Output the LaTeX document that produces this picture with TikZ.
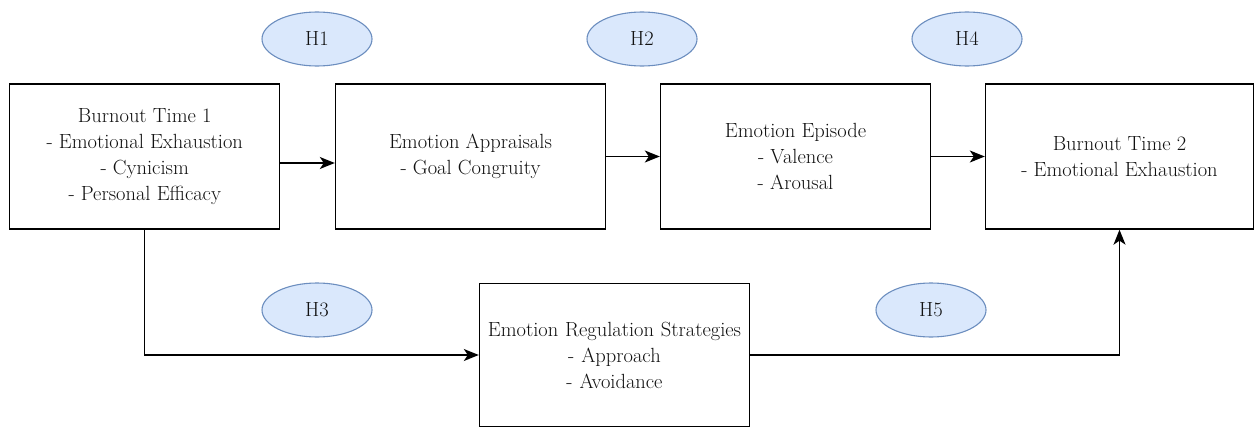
\documentclass[tikz,border=0pt]{standalone}
\usetikzlibrary{shapes.geometric,arrows.meta}
\definecolor{hfill}{HTML}{DAE8FC}
\definecolor{hdraw}{HTML}{6C8EBF}
\definecolor{txt}{HTML}{111111}
\tikzset{
  every node/.style={font=\fontsize{20.5}{26}\selectfont, text=txt},
  box/.style={draw=black, line width=1.4pt, minimum width=270pt, minimum height=145pt, align=center, inner sep=0pt, fill=white},
  hyp/.style={ellipse, draw=hdraw, fill=hfill, line width=1.1pt, minimum width=110pt, minimum height=54pt, inner sep=0pt},
  conn/.style={draw=black, line width=1.4pt, -{Stealth[length=15pt,width=12pt,inset=4pt]}}
}
\begin{document}
\begin{tikzpicture}[x=1pt,y=-1pt]
\useasboundingbox (0,0) rectangle (1255,428);
\node[box] (b1) at (144.75,156.5) {Burnout Time 1\\- Emotional Exhaustion\\- Cynicism\\- Personal Efficacy};
\node[box] (b2) at (470.5,156.5) {Emotion Appraisals\\- Goal Congruity};
\node[box] (b3) at (795.5,156.5) {Emotion Episode\\- Valence\\- Arousal};
\node[box, minimum width=268pt] (b4) at (1119.5,156.5) {Burnout Time 2\\- Emotional Exhaustion};
\node[box, minimum height=143pt, text width=270pt] (b5) at (614.5,355) {Emotion Regulation Strategies\\- Approach\\- Avoidance};
\node[hyp] (h1) at (317,39) {H1};
\node[hyp] (h2) at (642,39) {H2};
\node[hyp] (h4) at (967,39) {H4};
\node[hyp] (h3) at (317,310) {H3};
\node[hyp] (h5) at (931,310) {H5};
\draw[conn] ([yshift=-6.5pt]b1.east) -- ([yshift=-6.5pt]b1.east -| b2.west);
\draw[conn] (b2.east) -- (b3.west);
\draw[conn] (b3.east) -- (b4.west);
\draw[conn] (b1.south) |- (b5.west);
\draw[conn] (b5.east) -| (b4.south);
\end{tikzpicture}
\end{document}
